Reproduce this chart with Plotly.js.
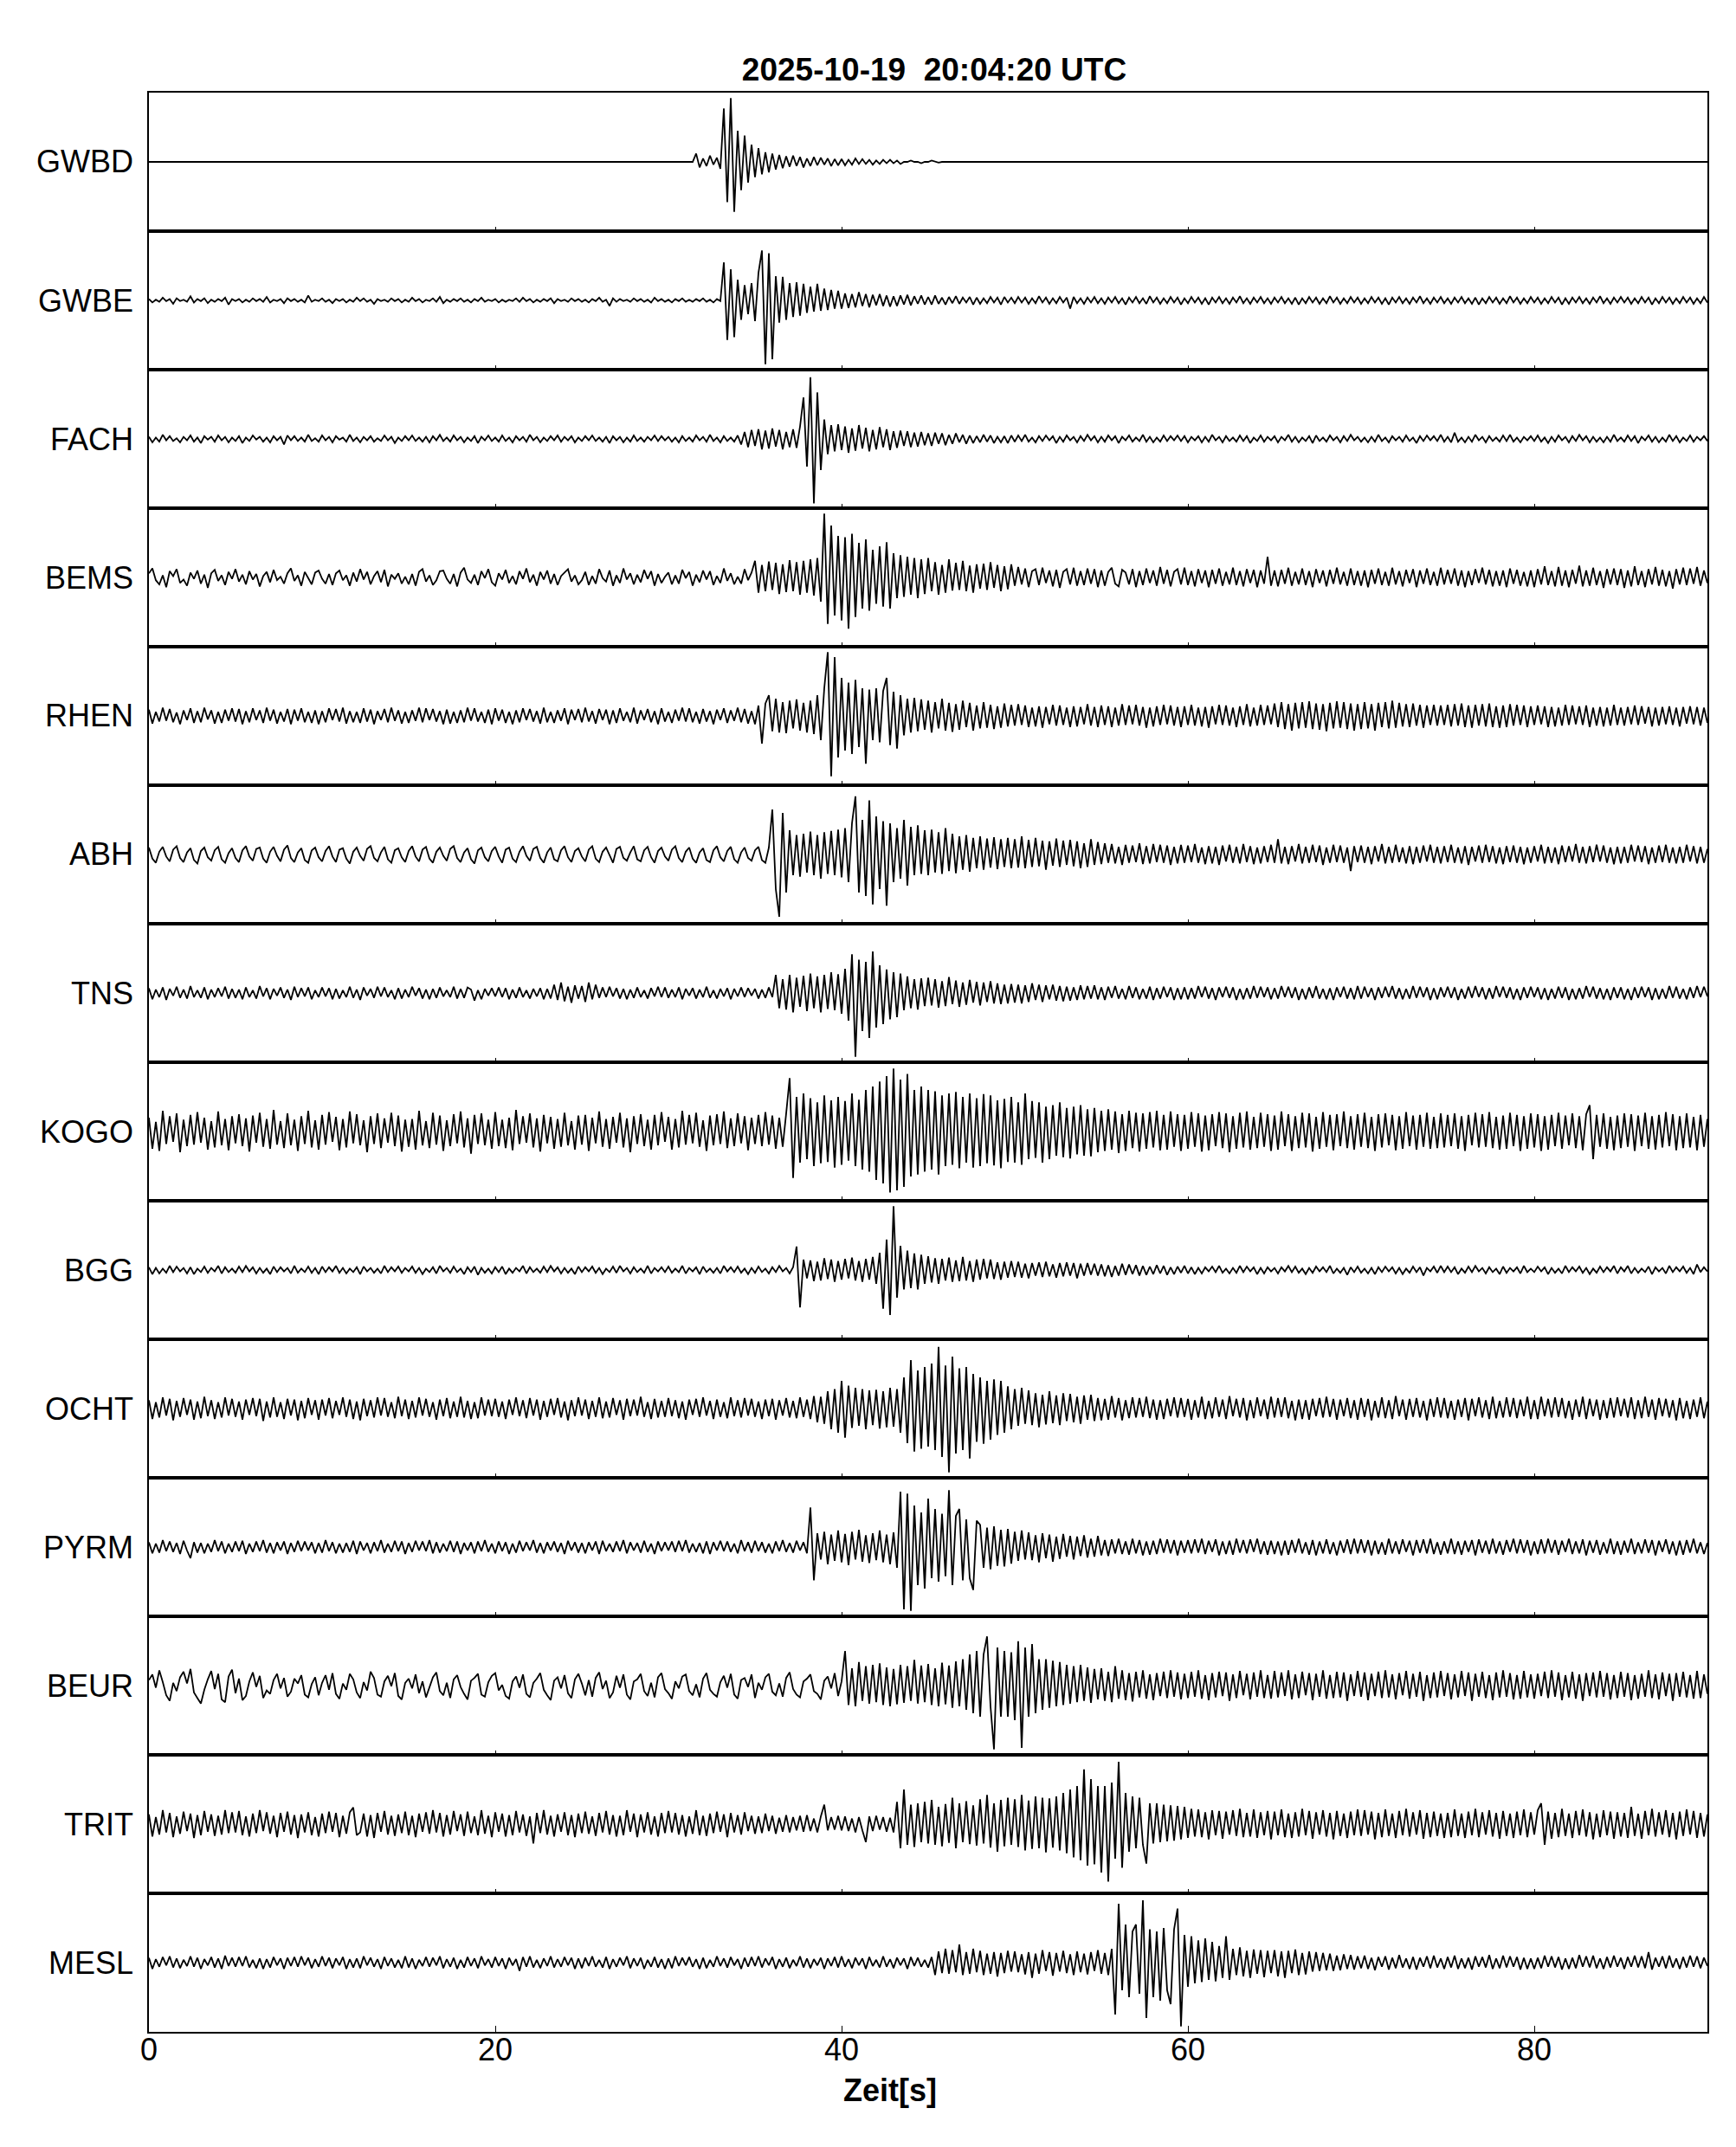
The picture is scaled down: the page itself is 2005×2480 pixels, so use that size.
<!DOCTYPE html>
<html><head><meta charset="utf-8">
<script src="https://cdn.plot.ly/plotly-3.0.1.min.js"></script>
<style>html,body{margin:0;padding:0;background:#fff}</style>
</head><body>
<div id="chart" style="width:2005px;height:2480px"></div>
<script>
// Station names, top to bottom
const stations = ['GWBD','GWBE','FACH','BEMS','RHEN','ABH','TNS','KOGO','BGG','OCHT','PYRM','BEUR','TRIT','MESL'];
const tickVals = [0,20,40,60,80];
const tickText = ['0','20','40','60','80'];
const titleText = '2025-10-19\u00a0 20:04:20 UTC';
const xTitleText = 'Zeit[s]';
// Each trace: rows of 5 s (samples every 0.2 s), amplitude in % of half panel height; last row = value at 90 s
const Z = [0,0,0,0,0, 0,0,0,0,0, 0,0,0,0,0, 0,0,0,0,0, 0,0,0,0,0];
const GWBD = [Z,Z,Z,Z,Z,Z,
[0,0,0,0,0, 0,0,0,12,-8, 5,-6,9,-4,6, -10,77,-58,92,-72, 45,-41,38,-30,25],
[-22,20,-18,14,-15, 12,-11,10,-9,8, -7,9,-6,7,-8, 5,-6,7,-5,6, -4,5,-6,4,-5],
[4,-5,3,-4,5, -3,4,-3,3,-4, 2,-3,3,-2,3, -2,2,-3,0,0, 2,0,0,-2,0],
[0,2,0,-1,0, 0,0,0,0,0, 0,0,0,0,0, 0,0,0,0,0, 0,0,0,0,0],
Z,Z,Z,Z,Z,Z,Z,Z,[0]];
const GWBE = [
[2,-3,1,-2,4, -1,2,-5,3,-1, 1,-2,6,-3,2, -1,3,-4,1,-2, 2,-1,4,-6,2],
[-1,2,-3,1,-2, 3,-1,2,-2,5, -3,1,-1,2,-4, 3,-1,2,-2,1, -3,7,-2,1,-1],
[3,-2,1,-4,2, -1,2,-3,1,-2, 4,-1,3,-2,1, -5,2,-1,1,-2, 3,-1,2,-3,1],
[-2,4,-1,2,-3, 1,-1,3,-2,5, -4,1,-2,2,-1, 3,-2,1,-3,2, -1,4,-2,1,-1],
[2,-3,1,-2,1, -1,3,-2,4,-1, 2,-3,1,-2,2, -1,3,-4,2,-1, 1,-2,3,-1,2],
[-2,1,-3,2,-1, 4,-2,1,-8,3, -2,2,-1,1,-2, 3,-1,2,-2,1, -3,4,-1,2,-2],
[1,-3,2,-1,3, -2,1,-2,2,-1, 3,-2,1,-3,2, -1,55,-57,45,-53, 30,-28,22,-20,25],
[-30,40,72,-92,68, -85,35,-32,34,-28, 25,-24,26,-22,24, -18,20,-16,24,-15, 17,-14,15,-12,14],
[-12,10,-11,9,-10, 12,-8,9,-10,8, -7,9,-8,7,-9, 6,-8,7,-6,8, -7,6,-5,7,-6],
[5,-6,7,-5,4, -6,5,-4,6,-5, 4,-3,5,-6,4, -5,3,-4,5,-3, 4,-6,5,-3,4],
[-4,5,-3,4,-5, 3,-4,6,-3,4, -5,3,-4,5,-3, 4,-12,5,-4,3, -5,4,-3,5,-4],
[3,-5,4,-3,5, -4,3,-6,4,-3, 5,-4,3,-5,6, -3,4,-5,3,-4, 5,-3,4,-6,3],
[-4,5,-3,4,-5, 3,-6,4,-3,5, -4,3,-5,4,-3, 6,-4,3,-5,4, -3,5,-4,3,-5],
[4,-3,5,-4,3, -5,4,-6,3,-4, 5,-3,4,-5,3, -4,6,-3,4,-5, 3,-4,5,-3,4],
[-5,3,-4,5,-3, 4,-5,3,-6,4, -3,5,-4,3,-5, 4,-3,6,-4,3, -5,4,-3,5,-4],
[3,-5,4,-3,5, -4,3,-5,4,-6, 3,-4,5,-3,4, -5,3,-4,6,-3, 4,-5,3,-4,5],
[-3,4,-5,3,-4, 5,-3,4,-6,3, -5,4,-3,5,-4, 3,-5,4,-3,6, -4,3,-5,4,-3],
[5,-3,4,-5,3, -4,5,-3,4,-6, 3,-4,5,-3,4, -5,3,-4,5,-3, 4,-5,3,-4,5],
[-3]];
const FACH = [
[3,-5,2,-4,6, -2,4,-3,1,-5, 3,-2,5,-4,2, -6,4,-1,3,-4, 5,-2,3,-5,2],
[-3,4,-6,2,-3, 5,-1,3,-4,2, -5,4,-2,3,-8, 5,-2,4,-3,2, -4,6,-3,1,-4],
[5,-2,3,-5,4, -1,2,-4,6,-3, 2,-5,3,-2,4, -4,1,-3,5,-2, 3,-6,2,-3,4],
[-2,5,-3,2,-4, 3,-5,4,-2,6, -3,2,-4,5,-2, 3,-5,2,-3,4, -6,3,-2,5,-3],
[2,-4,5,-3,2, -5,4,-2,3,-4, 6,-2,3,-5,2, -3,4,-2,5,-4, 3,-2,4,-5,2],
[-3,4,-2,5,-3, 2,-4,3,-6,4, -2,3,-5,2,-4, 5,-3,2,-4,3, -2,5,-3,4,-2],
[3,-4,2,-5,4, -3,2,-4,5,-2, 3,-4,6,-3,2, -5,4,-3,2,-4, 5,-8,10,-12,13],
[-10,14,-15,12,-14, 15,-11,13,-15,10, -12,14,-13,18,60, -40,89,-93,67,-45, 28,-22,20,-18,21],
[-16,18,-20,15,-17, 20,-14,16,-18,13, -15,17,-12,14,-16, 11,-13,12,-10,11, -12,9,-11,10,-9],
[8,-10,9,-7,8, -9,6,-7,8,-5, 6,-7,5,-6,4, -5,6,-4,5,-6, 3,-5,4,-6,5],
[-4,5,-3,6,-4, 2,-5,4,-3,5, -2,4,-6,3,-4, 5,-2,3,-5,4, -3,6,-2,4,-5],
[3,-4,5,-2,4, -6,3,-2,5,-4, 2,-3,6,-4,3, -5,2,-4,5,-3, 4,-2,5,-3,4],
[-5,3,-2,4,-5, 3,-4,6,-2,3, -5,4,-3,2,-4, 5,-3,4,-6,2, -3,5,-4,3,-2],
[4,-5,3,-2,6, -4,3,-5,2,-3, 4,-6,5,-3,2, -4,5,-2,3,-5, 4,-3,6,-2,3],
[-4,2,-5,3,-4, 6,-3,2,-5,4, -2,3,-4,5,-3, 2,-6,4,-3,5, -2,4,-3,6,-4],
[3,-5,9,-4,2, -5,3,-4,6,-2, 3,-5,4,-3,2, -4,5,-3,6,-4, 2,-5,3,-2,4],
[-3,5,-4,2,-6, 3,-4,5,-2,3, -5,4,-3,6,-2, 4,-5,3,-4,2, -5,3,-4,6,-3],
[2,-4,5,-3,4, -6,3,-2,5,-4, 3,-5,2,-4,6, -3,4,-5,2,-3, 5,-4,3,-2,4],
[-3]];
const BEMS = [
[6,13,-4,-10,3, -14,9,2,12,-8, -3,-12,7,-2,10, -9,4,-15,6,11, -5,3,-11,8,-2],
[12,-6,4,-10,9, -3,5,-13,2,8, -7,11,-4,1,-9, 6,13,-5,3,-12, 8,-1,-10,7,10],
[-2,-9,5,-11,6, 10,-4,3,-12,7, -6,12,-3,8,-10, 2,9,-7,11,-13, 4,-2,6,-9,1],
[-10,5,-12,8,12, -6,3,-11,-4,9, 10,-2,-9,5,-13, 7,14,-3,-8,4, -11,9,-1,12,-7],
[-12,6,-3,11,-8, 2,-10,9,-2,13, -7,4,-12,8,-3, 10,-9,5,-11,2, 7,12,-6,3,-10],
[-4,8,-11,2,-9, 12,-1,-6,10,-12, 3,-8,13,-3,6, -10,4,-7,11,-2, 9,-12,5,-8,1],
[7,-10,3,-9,11, -1,8,-12,4,-7, 10,-3,9,-11,2, -8,13,-5,6,-10, 1,-9,12,-4,7],
[24,-22,18,-20,23, -18,21,-24,19,-21, 25,-20,22,-25,24, -22,26,-26,28,-35, 92,-67,75,-55,60],
[-62,58,-74,63,-57, 50,-45,55,-48,40, -38,45,-42,51,-45, 35,-30,32,-28,30, -25,28,-30,26,-24],
[28,-20,22,-25,18, -22,26,-19,21,-18, 24,-20,17,-22,19, -16,20,-18,22,-15, 18,-20,16,-17,19],
[-12,15,-10,13,-14, 9,12,-11,14,-8, 10,-13,11,-15,8, 12,-10,14,-12,9, -11,13,-9,12,-14],
[10,-12,8,14,-9, -13,11,7,-10,12, -14,9,-11,13,-8, 10,-12,15,-9,11, -13,8,12,-10,14],
[-11,9,-13,12,-8, 10,-14,11,-9,13, -12,8,-10,14,-11, 9,-13,12,-8,11, -14,10,-9,30,-12],
[10,-13,11,-9,14, -12,8,-10,13,-11, 9,-14,12,-8,10, -13,11,-9,14,-10, 8,-12,13,-11,9],
[-12,10,-14,11,-9, 13,-11,8,-12,14, -10,9,-13,11,-8, 12,-14,10,-9,13, -11,8,-12,14,-10],
[11,-9,13,-12,10, -14,9,-11,12,-8, 14,-10,11,-13,9, -12,10,-14,13,-9, 11,-12,8,-13,10],
[-14,12,-10,16,-11, 9,-13,15,-12,10, -14,11,-9,17,-13, 10,-12,14,-11,9, -15,12,-10,13,-11],
[12,-15,10,-13,16, -11,9,-14,12,-10, 15,-12,11,-13,9, -16,12,-10,14,-11, 13,-9,15,-12,10],
[-8]];
const RHEN = [
[9,-11,6,-8,12, -7,10,-9,5,-12, 8,-6,11,-10,7, -9,12,-5,8,-11, 6,-10,9,-7,11],
[-8,10,-12,7,-9, 11,-6,8,-10,12, -7,9,-11,6,-8, 10,-12,9,-7,11, -9,6,-10,8,-12],
[7,-9,11,-6,10, -8,12,-11,7,-9, 6,-10,11,-8,9, -12,7,-6,10,-9, 12,-7,8,-11,6],
[-10,8,-7,12,-9, 11,-6,10,-8,7, -12,9,-11,6,-10, 8,-9,12,-7,11, -8,6,-10,9,-12],
[11,-7,9,-10,6, -12,8,-9,11,-6, 10,-8,7,-11,12, -9,6,-10,8,-7, 11,-12,9,-6,10],
[-9,12,-8,7,-11, 10,-6,9,-12,8, -10,11,-7,6,-9, 12,-11,8,-6,10, -9,7,-12,11,-8],
[6,-10,9,-7,12, -8,11,-9,6,-11, 10,-8,7,-12,9, -6,11,-10,8,-7, 12,-9,10,-11,7],
[-12,15,-40,18,30, -22,25,-24,20,-25, 22,-18,24,-21,19, -24,22,-26,30,-35, 40,92,-87,85,-60],
[55,-50,48,-55,52, -45,40,-69,38,-35, 40,-38,36,55,-42, 35,-47,30,-28,25, -24,26,-22,24,-20],
[22,-24,20,-18,25, -21,19,-23,17,-20, 22,-16,19,-21,15, -18,20,-17,16,-19, 14,-17,18,-15,16],
[-14,17,-13,15,-16, 12,-15,14,-17,13, -12,16,-14,15,-13, 12,-16,14,-15,13, -12,17,-14,13,-16],
[15,-13,14,-16,12, -14,17,-13,15,-12, 16,-14,13,-17,12, -15,14,-13,16,-12, 15,-14,13,-16,14],
[-13,16,-14,12,-15, 13,-17,14,-12,16, -13,15,-14,12,-16, 14,-13,17,-15,12, -14,16,-13,15,-12],
[18,-16,20,-19,17, -21,19,-18,20,-17, 21,-19,18,-20,17, -22,19,-18,21,-17, 20,-19,18,-21,17],
[-19,20,-18,17,-21, 19,-16,20,-18,22, -17,19,-15,17,-16, 18,-14,16,-17,15, -13,16,-14,15,-13],
[16,-15,17,-14,18, -16,15,-17,16,-14, 17,-15,18,-16,14, -17,15,-16,17,-14, 16,-13,15,-16,14],
[-13,15,-12,14,-16, 13,-15,12,-14,16, -13,15,-12,14,-13, 15,-16,12,-14,13, -15,12,-14,16,-13],
[12,-14,13,-12,15, -13,14,-11,13,-15, 12,-14,13,-12,14, -13,12,-15,13,-11, 14,-12,13,-14,12],
[-10]];
const ABH = [
[10,-6,-12,4,11, -3,-10,7,12,-5, -11,3,9,-8,-13, 5,10,-4,-9,6, 11,-7,-12,2,9],
[-5,-11,6,12,-3, -9,8,10,-6,-12, 4,11,-2,-10,7, 13,-5,-11,3,9, -8,-12,6,10,-4],
[-10,5,12,-3,-11, 7,9,-6,-13,4, 10,-2,-9,8,12, -5,-10,3,11,-7, -12,6,9,-4,-11],
[5,12,-3,-10,7, 11,-6,-12,4,10, -2,-9,8,12,-5, -11,3,9,-7,-13, 6,10,-4,-10,5],
[11,-3,-12,7,10, -6,-11,4,12,-2, -9,8,11,-5,-12, 3,10,-7,-10,6, 12,-4,-11,5,9],
[-3,-10,7,12,-6, -11,4,10,-2,-12, 8,11,-5,-9,3, 12,-7,-10,6,11, -4,-12,5,10,-3],
[-9,7,12,-5,-11, 4,10,-6,-12,3, 9,-8,-11,6,12, -4,-10,5,11,-7, -12,3,10,-5,-9],
[6,11,-8,-12,10, 65,-50,-90,60,-55, 35,-30,28,-32,30, -26,33,-30,28,-35, 32,-28,34,-30,36],
[-33,38,-40,45,84, -55,50,-60,78,-72, 55,-50,48,-74,45, -40,38,-35,50,-45, 40,-30,42,-28,35],
[-30,36,-26,32,-28, 38,-24,30,-27,26, -22,28,-25,24,-20, 26,-22,23,-19,25, -21,22,-18,24,-20],
[22,-19,26,-20,21, -18,24,-17,20,-22, 19,-16,23,-18,20, -15,21,-17,19,-20, 16,-18,22,-15,18],
[-14,16,-12,15,-13, 11,-15,14,-12,13, -11,16,-14,12,-13, 15,-11,14,-12,13, -15,11,-13,14,-12],
[13,-11,15,-12,10, -14,12,-13,11,-15, 13,-10,14,-12,11, -13,15,-11,12,-14, 10,-13,12,-11,14],
[-12,22,-13,11,-14, 12,-10,15,-13,11, -12,14,-11,13,-15, 10,-12,14,-11,13, -12,10,-24,12,-11],
[13,-12,11,-14,12, -10,15,-13,11,-12, 14,-11,10,-13,12, -14,11,-12,13,-10, 14,-12,11,-13,12],
[-11,14,-12,10,-13, 12,-15,11,-10,13, -12,14,-11,12,-13, 10,-14,12,-11,13, -12,11,-14,10,-12],
[12,-10,14,-13,11, -12,10,-14,13,-11, 12,-10,15,-12,11, -13,12,-11,14,-10, 13,-12,10,-14,11],
[-13,11,-12,14,-10, 13,-11,12,-14,10, -12,13,-11,14,-12, 10,-13,11,-12,14, -10,12,-13,11,-12],
[8]];
const TNS = [
[7,-9,5,-6,8, -10,6,-4,9,-7, 5,-8,10,-6,4, -7,8,-9,5,-6, 7,-5,9,-8,6],
[-7,5,-9,8,-6, 4,-8,10,-5,7, -9,6,-4,8,-7, 5,-10,9,-6,7, -5,8,-9,4,-6],
[8,-5,7,-9,6, -8,4,-6,9,-7, 5,-10,8,-4,6, -7,9,-5,8,-6, 4,-9,7,-8,5],
[-6,9,-4,7,-8, 5,-9,6,-7,8, -5,4,-6,9,-8, 6,-7,8,5,-11, 4,-9,6,-4,7],
[-5,8,-6,7,-9, 5,-7,8,-6,4, -8,6,-5,7,-9, 6,-8,12,-10,15, -12,9,-14,11,-8],
[10,-13,15,-9,12, -7,8,-6,9,-5, 7,-8,6,-9,5, -7,8,-6,4,-8, 7,-5,9,-6,8],
[-7,5,-6,8,-9, 6,-4,7,-8,5, -6,9,-7,4,-8, 6,-5,7,-9,6, -5,8,-6,7,-4],
[6,-8,5,-7,8, -6,26,-22,20,-24, 26,-28,22,-20,25, -26,28,-22,24,-28, 26,-23,30,-25,27],
[-30,35,-40,56,-92, 48,-55,45,-65,60, -50,40,-45,34,-38, 30,-35,28,-25,24, -22,20,-24,21,-19],
[22,-18,20,-21,17, -19,23,-16,18,-20, 15,-17,19,-14,16, -18,15,-13,17,-15, 14,-16,12,-15,13],
[-14,12,-15,11,-13, 14,-10,12,-13,11, -9,12,-11,10,-12, 9,-11,8,-10,11, -9,10,-8,11,-9],
[8,-10,9,-7,10, -8,6,-9,10,-7, 8,-9,6,-8,9, -10,7,-8,9,-6, 8,-10,7,-9,8],
[-9,7,-8,10,-6, 9,-8,7,-10,8, -6,9,-7,8,-10, 6,-9,7,-8,10, -7,9,-6,8,-9],
[7,-8,10,-6,9, -7,8,-10,6,-9, 8,-7,10,-8,6, -9,7,-10,8,-6, 9,-8,7,-9,10],
[-8,9,-6,7,-10, 8,-7,9,-6,10, -8,7,-9,6,-8, 10,-7,9,-6,8, -10,7,-9,8,-6],
[9,-7,8,-10,6, -8,9,-7,10,-6, 8,-9,7,-8,10, -6,9,-7,8,-9, 6,-10,8,-7,9],
[-6,8,-9,7,-10, 6,-8,9,-7,8, -10,6,-9,7,-8, 10,-6,9,-8,7, -9,6,-10,8,-7],
[8,-9,6,-10,8, -7,9,-6,8,-10, 7,-9,6,-8,10, -7,9,-8,6,-9, 8,-7,10,-6,9],
[-5]];
const KOGO = [
[20,-25,14,-28,30, -18,22,-15,26,-30, 17,-21,24,-19,28, -16,20,-26,15,-23, 29,-20,18,-27,22],
[-17,25,-21,19,-29, 23,-16,27,-22,18, -25,31,-19,15,-24, 26,-20,17,-28,22, -18,30,-23,16,-26],
[24,-19,28,-15,21, -27,18,-23,29,-17, 25,-20,16,-30,22, -18,26,-24,19,-16, 27,-21,23,-29,17],
[-22,18,-26,30,-20, 15,-24,27,-19,23, -28,16,-21,25,-17, 29,-23,19,-32,24, -18,26,-20,17,-25],
[28,-21,17,-24,20, -27,31,-18,22,-16, 26,-23,19,-29,24, -17,21,-25,18,-22, 27,-20,15,-26,23],
[-19,24,-28,20,-17, 29,-22,18,-25,21, -16,27,-23,19,-30, 22,-18,25,-21,17, -26,24,-20,28,-15],
[21,-26,18,-23,30, -19,24,-17,27,-22, 16,-28,23,-20,25, -18,29,-24,19,-21, 26,-17,22,-27,20],
[-18,24,-21,28,-19, 23,-25,20,-22,26, 77,-67,50,-45,55, -40,48,-50,42,-46, 52,-44,45,-52,50],
[-48,44,-42,55,-50, 46,-55,60,-58,65, -70,72,-75,80,-88, 91,-85,75,-80,83, -65,60,-62,65,-58],
[60,-55,58,-62,52, -50,55,-48,57,-53, 50,-45,55,-52,48, -50,54,-46,52,-49, 45,-53,47,-44,50],
[-45,42,-48,55,-40, 44,-38,42,-45,36, -40,38,-35,42,-37, 34,-39,36,-33,38, -35,32,-36,34,-30],
[30,-28,32,-26,29, -31,25,-28,30,-24, 27,-29,26,-25,28, -23,30,-27,24,-26, 29,-22,25,-28,24],
[-25,28,-22,26,-29, 23,-27,25,-21,28, -24,26,-30,22,-25, 27,-23,29,-26,21, -24,27,-22,25,-28],
[23,-26,29,-21,25, -28,22,-24,27,-23, 26,-29,21,-25,28, -22,24,-27,25,-21, 29,-24,22,-26,25],
[-22,27,-24,21,-28, 25,-23,26,-20,24, -27,22,-25,28,-21, 23,-26,24,-22,27, -25,21,-24,26,-23],
[24,-21,26,-25,22, -28,24,-20,27,-23, 25,-22,28,-24,21, -26,23,-25,27,-21, 24,-28,22,-25,26],
[-23,25,-28,22,-26, 24,-21,27,-25,23, -20,26,-24,22,-27, 25,38,-40,24,-22, 26,-25,21,-27,23],
[-24,26,-22,25,-28, 23,-21,27,-25,22, -26,24,-23,28,-21, 25,-27,22,-24,26, -23,21,-27,24,-22],
[18]];
const BGG = [
[4,-6,3,-5,2, -4,6,-3,5,-2, 3,-5,4,-6,2, -3,5,-4,3,-2, 6,-5,4,-3,2],
[-4,5,-3,6,-2, 4,-5,3,-4,2, -6,5,-3,4,-2, 3,-5,6,-4,2, -3,5,-4,3,-6],
[5,-3,4,-2,6, -4,3,-5,2,-3, 4,-6,5,-2,3, -4,2,-5,6,-3, 4,-2,5,-4,3],
[-2,5,-4,3,-6, 2,-3,4,-5,6, -2,3,-4,5,-3, 2,-6,4,-3,5, -7,3,-4,2,-5],
[4,-3,5,-6,2, -4,3,-2,6,-5, 4,-3,2,-4,5, -3,6,-2,4,-5, 3,-4,2,-6,5],
[-3,4,-2,5,-4, 3,-6,2,-3,5, -4,6,-2,3,-5, 4,-3,2,-4,6, -5,3,-2,4,-3],
[5,-4,2,-3,6, -5,3,-2,4,-6, 5,-3,2,-4,3, -5,6,-2,4,-3, 5,-4,2,-6,3],
[-4,5,-3,2,-5, 4,-3,6,-2,3, -5,4,34,-54,15, -12,14,-16,12,-15, 17,-13,15,-17,13],
[-14,16,-12,18,-15, 13,-17,16,-14,19, -20,25,-56,44,-65, 92,-40,35,-28,28, -26,24,-28,22,-20],
[20,-18,17,-20,16, -15,18,-17,14,-16, 19,-15,13,-17,15, -14,16,-12,15,-13, 11,-14,12,-11,13],
[-10,12,-11,9,-12, 10,-8,11,-10,12, -9,8,-11,10,-9, 11,-8,10,-12,9, -8,10,-7,9,-8],
[8,-9,7,-10,6, -8,9,-7,8,-6, 7,-8,6,-7,5, -6,7,-5,6,-7, 4,-6,5,-4,6],
[-5,4,-6,3,-5, 4,-2,5,-3,6, -4,2,-5,3,-4, 6,-3,5,-2,4, -6,3,-5,4,-2],
[3,-5,4,-2,6, -3,5,-4,2,-6, 3,-4,5,-2,4, -3,6,-5,2,-4, 3,-7,4,-3,5],
[-4,2,-5,3,-6, 4,-3,5,-2,4, -5,3,-6,2,-4, 5,-3,4,-8,3, -2,5,-4,6,-3],
[5,-3,4,-6,2, -4,5,-3,6,-2, 3,-5,4,-3,2, -6,5,-4,3,-2, 4,-5,6,-3,2],
[-3,5,-2,4,-6, 3,-4,2,-5,6, -3,4,-2,5,-4, 3,-6,2,-4,5, -3,4,-2,6,-5],
[4,-2,6,-5,3, -4,2,-3,5,-6, 4,-2,3,-5,6, -3,4,-2,5,-4, 3,-6,8,-3,4],
[-2]];
const OCHT = [
[12,-15,9,-13,16, -10,14,-17,11,-12, 15,-9,13,-16,10, -14,17,-11,12,-15, 9,-13,16,-10,14],
[-12,10,-16,13,-9, 15,-11,14,-18,10, -13,16,-12,9,-15, 14,-10,13,-17,11, -14,15,-9,12,-16],
[13,-10,15,-14,11, -9,16,-12,13,-15, 10,-17,14,-11,12, -13,16,-10,15,-12, 9,-14,17,-11,13],
[-15,11,-13,16,-10, 14,-12,9,-16,13, -11,15,-14,10,-12, 17,-13,11,-15,9, -14,16,-10,13,-11],
[14,-12,10,-15,13, -9,16,-11,12,-14, 15,-10,13,-16,11, -12,14,-9,15,-13, 10,-17,12,-11,16],
[-10,13,-15,11,-12, 16,-14,10,-13,15, -9,12,-16,14,-11, 13,-10,17,-12,9, -15,14,-13,11,-12],
[15,-11,12,-14,10, -16,13,-9,14,-12, 16,-10,11,-15,13, -12,9,-14,16,-11, 12,-13,15,-10,14],
[-12,10,-15,13,-11, 14,-16,12,-10,15, -13,11,-14,16,-12, 13,-15,18,-20,17, -22,25,-30,28,-35],
[40,-42,33,-28,30, -25,28,-30,26,-24, 27,-29,25,-27,30, -26,28,-35,45,-50, 70,-62,55,-58,60],
[-55,65,-60,89,-70, 62,-92,75,-65,58, -60,60,-72,50,-48, 45,-51,40,-45,42, -38,40,-35,32,-30],
[28,-25,30,-22,26, -24,22,-27,20,-23, 25,-21,19,-24,22, -18,21,-20,17,-22, 19,-16,20,-18,15],
[-17,14,-16,18,-13, 15,-17,12,-14,16, -13,15,-12,17,-14, 13,-16,12,-15,14, -11,16,-13,15,-12],
[14,-16,12,-13,17, -15,11,-14,16,-12, 13,-15,18,-11,14, -13,15,-17,12,-14, 16,-11,13,-15,17],
[-13,15,-12,16,-14, 11,-17,13,-15,12, -16,14,-11,15,-13, 17,-12,14,-16,13, -11,15,-14,12,-16],
[15,-12,14,-17,11, -13,16,-14,12,-15, 18,-11,13,-16,14, -12,15,-13,11,-17, 14,-12,16,-13,15],
[-14,11,-16,13,-12, 15,-17,14,-11,16, -13,12,-15,17,-14, 11,-13,16,-12,15, -14,13,-11,17,-15],
[12,-15,17,-11,14, -13,16,-12,15,-14, 11,-16,13,-12,17, -15,14,-11,13,-16, 12,-14,15,-13,16],
[-11,14,-13,16,-15, 12,-14,17,-12,13, -16,15,-11,14,-13, 12,-17,15,-14,11, -15,13,-12,16,-14],
[10]];
const PYRM = [
[7,-9,5,-8,10, -6,8,-7,6,-10, 9,-5,-16,7,-8, 6,-9,5,-7,10, -6,8,-9,5,-7],
[8,-6,9,-10,5, -7,8,-6,10,-8, 6,-9,7,-5,8, -10,6,-7,9,-6, 8,-5,7,-9,6],
[-8,10,-6,7,-9, 5,-8,6,-7,9, -10,8,-5,6,-9, 7,-6,10,-8,5, -7,9,-6,8,-10],
[6,-7,9,-5,8, -6,10,-9,7,-8, 5,-6,9,-7,8, -10,6,-5,7,-9, 8,-6,10,-7,5],
[-9,8,-6,7,-10, 5,-8,9,-6,7, -5,10,-8,6,-9, 7,-5,8,-7,6, -10,9,-5,7,-8],
[6,-9,7,-5,8, -10,9,-6,5,-7, 8,-6,10,-9,7, -5,6,-8,9,-7, 5,-10,8,-6,7],
[-5,8,-7,9,-6, 10,-8,5,-7,6, -9,8,-10,7,-5, 9,-6,8,-7,5, -9,10,-6,7,-8],
[9,-6,7,-8,5, -9,8,-6,10,-7, 6,-8,9,-5,7, -9,57,-48,20,-18, 22,-25,18,-20,24],
[-22,19,-26,22,-18, 25,-21,17,-23,20, -19,24,-22,18,-25, 21,-30,80,-90,77, -92,60,-55,50,-60],
[70,-45,55,-50,48, -42,82,-55,45,55, -48,40,-45,-62,38, 32,-30,28,-32,30, -27,25,-28,26,-24],
[22,-20,24,-18,21, -19,17,-22,20,-16, 18,-21,15,-17,19, -14,16,-18,15,-13, 17,-15,12,-14,16],
[-12,10,-13,11,-9, 12,-10,8,-11,12, -9,10,-12,8,-11, 9,-10,12,-8,11, -9,10,-12,9,-8],
[10,-9,11,-8,12, -10,9,-7,11,-12, 8,-10,9,-11,12, -8,10,-9,11,-7, 12,-10,8,-11,9],
[-10,8,-12,9,-11, 10,-8,12,-9,7, -11,10,-12,8,-9, 11,-10,7,-12,9, -8,11,-10,12,-9],
[11,-8,10,-12,9, -10,7,-11,12,-9, 8,-10,11,-7,9, -12,10,-8,11,-9, 12,-10,7,-11,8],
[-9,12,-10,8,-11, 9,-7,10,-12,11, -8,9,-10,12,-9, 8,-11,10,-7,12, -9,11,-8,10,-12],
[8,-10,11,-9,12, -8,10,-11,9,-7, 12,-10,8,-9,11, -12,9,-8,10,-11, 7,-9,12,-10,8],
[-11,9,-8,12,-10, 7,-9,11,-8,10, -12,9,-7,11,-10, 8,-12,9,-11,10, -8,12,-9,7,-10],
[6]];
const BEUR = [
[8,16,-3,22,5, -14,-22,4,-8,12, 20,3,24,-10,-18, -26,-6,9,21,-5, 17,-20,-24,13,23],
[-11,10,-21,-15,6, 19,-2,14,-18,-7, -12,8,17,-4,11, -16,-9,10,3,15, -13,-17,2,12,-14],
[4,15,-6,18,-12, -19,3,-6,17,9, -10,-18,5,-7,20, 11,-13,-16,6,14, -1,18,-15,-20,4],
[10,-4,16,-11,6, -17,-3,12,19,-8, -14,4,-18,9,15, -2,-12,-20,7,11, 17,-13,-16,5,14],
[18,-7,1,-15,-19, 6,13,-3,16,-12, -17,4,10,18,-6, -14,-21,7,12,-4, 15,-11,-18,9,17],
[3,-14,8,-16,11, 19,-5,7,-18,-10, 14,-3,16,-13,-20, 6,9,17,-8,-15, 4,-17,12,18,-5],
[-11,-19,6,-4,13, 16,-8,-14,2,-17, 10,18,-6,-12,-16, 5,14,-3,17,-13, -19,8,11,-2,16],
[-18,4,-6,12,17, -9,-14,3,-16,11, 19,-5,-13,-17,6, 10,16,-8,-12,-20, 7,13,-4,18,-15],
[6,50,-28,25,-30, 34,-22,28,-26,30, -24,32,-28,26,-30, 24,-27,30,-25,28, -22,37,-26,29,-24],
[31,-28,25,-30,33, -27,29,-32,35,-30, 38,-35,45,-40,50, -45,45,71,-30,-92, 55,-45,50,-45,48],
[-50,64,-90,55,-45, 60,-40,38,-35,38, -32,36,-30,34,-28, 30,-26,28,-24,30, -22,26,-25,24,-20],
[25,-22,20,-24,28, -19,22,-21,18,-23, 20,-17,22,-19,16, -21,18,-15,20,-18, 22,-16,19,-20,17],
[-18,20,-16,22,-19, 15,-21,18,-17,20, -15,19,-22,16,-18, 21,-14,17,-20,19, -16,22,-18,15,-19],
[21,-17,19,-15,22, -20,16,-18,20,-14, 18,-21,17,-16,22, -19,15,-18,20,-17, 19,-22,16,-15,21],
[-16,19,-21,17,-15, 20,-18,22,-17,16, -20,18,-14,21,-19, 17,-16,20,-22,15, -18,19,-17,21,-15],
[18,-20,16,-17,21, -15,19,-22,17,-16, 20,-18,15,-21,19, -17,22,-16,18,-20, 15,-19,21,-17,16],
[-19,17,-15,20,-18, 22,-16,19,-21,15, -17,20,-19,16,-22, 18,-15,19,-17,21, -16,18,-20,15,-18],
[20,-16,18,-21,15, -19,17,-16,22,-18, 16,-20,19,-15,17, -22,18,-16,20,-17, 15,-19,21,-18,16],
[-12]];
const TRIT = [
[14,-18,10,-15,20, -12,16,-19,11,-14, 18,-10,15,-20,13, -16,19,-11,14,-17, 12,-15,20,-13,17],
[-12,19,-16,11,-18, 15,-13,20,-10,17, -14,12,-19,16,-11, 18,-15,13,-20,14, -12,17,-16,10,-18],
[15,-13,18,-11,16, -19,12,-14,17,24, -16,-12,15,-18,13, -20,16,-11,19,-15, 12,-17,14,-13,18],
[-16,12,-19,15,-11, 17,-14,20,-12,16, -18,13,-15,19,-10, 14,-17,18,-13,11, -16,20,-14,12,-19],
[17,-11,15,-18,13, -16,19,-12,14,-17, 11,-28,16,-13,20, -15,12,-18,14,-11, 17,-16,13,-19,15],
[-13,18,-14,11,-17, 16,-12,19,-15,13, -18,12,-16,20,-11, 15,-19,14,-12,17, -15,11,-18,16,-13],
[19,-12,16,-15,13, -18,11,-14,20,-16, 12,-17,15,-13,18, -11,14,-19,16,-12, 13,-15,17,-10,12],
[-14,11,-13,15,-10, 12,-14,9,-11,13, -12,10,-9,12,-11, 13,-10,8,-12,11, 28,-9,10,-8,12],
[-9,11,-10,8,-12, 10,-9,-26,11,-10, 12,-8,10,-11,9, -12,32,-35,50,-30, 28,-33,30,-26,32],
[-28,35,-30,25,-32, 29,-27,38,-35,30, -26,33,-29,27,-31, 36,-28,42,-34,30, -40,35,-32,38,-30],
[36,-33,42,-38,34, -36,40,-35,38,-41, 37,-34,40,-38,45, -42,50,-48,55,-52, 79,-60,65,-58,55],
[-70,55,-83,60,-50, 90,-63,45,-40,40, -35,38,-30,-57,30, -28,30,-26,28,-25, 27,-24,26,-22,25],
[-20,22,-18,21,-19, 17,-22,20,-16,19, -21,18,-15,20,-17, 22,-19,16,-18,21, -20,17,-16,19,-22],
[18,-16,21,-19,15, -20,17,-18,22,-16, 19,-21,17,-15,20, -18,16,-22,19,-17, 15,-20,18,-16,21],
[-17,20,-15,18,-22, 16,-19,21,-17,15, -20,19,-16,22,-18, 17,-15,20,-21,16, -19,18,-17,15,-20],
[16,-19,21,-17,15, -20,18,-16,22,-19, 17,-15,20,-18,16, -21,19,-17,15,-20, 18,-16,21,-19,17],
[-15,20,30,-30,18, -21,16,-19,22,-17, 15,-20,19,-16,21, -18,17,-22,15,-19, 20,-16,18,-21,17],
[-18,16,-20,25,-17, 15,-21,19,-16,22, -18,17,-15,20,-19, 16,-22,18,-17,21, -15,19,-20,16,-18],
[14]];
const MESL = [
[7,-9,5,-6,8, -4,9,-7,6,-8, 4,-5,9,-6,7, -9,5,-4,8,-7, 6,-9,10,-5,7],
[-6,8,-5,9,-7, 4,-8,6,-9,5, -7,8,-4,6,-9, 7,-5,8,-6,9, -4,7,-8,5,-6],
[9,-5,7,-8,6, -4,8,-9,5,-7, 6,-8,9,-4,7, -6,5,-9,8,-5, 6,-7,4,-8,9],
[-7,6,-9,4,-5, 8,-6,7,-4,9, -8,5,-6,7,-9, 4,-7,8,-5,6, -8,9,-4,5,-7],
[8,-5,6,-9,7, -4,5,-12,8,-6, 9,-7,4,-8,6, -5,9,-7,5,-6, 8,-4,7,-9,6],
[-8,7,-5,9,-6, 4,-7,8,-9,5, -6,7,-4,9,-8, 6,-5,7,-9,4, -6,8,-7,5,-9],
[6,-8,9,-5,7, -4,8,-6,5,-9, 7,-8,4,-6,9, -5,6,-7,8,-4, 5,-9,7,-6,8],
[-5,9,-7,6,-4, 8,-9,5,-6,7, -8,4,-5,9,-7, 6,-8,5,-4,7, -9,6,-5,8,-7],
[9,-6,5,-8,7, -4,6,-9,8,-5, 4,-7,9,-6,5, -8,7,-4,6,-9, 8,-5,7,-6,4],
[-7,8,-18,16,-15, 20,-16,18,-14,26, -18,15,-16,20,-14, 17,-18,13,-16,15, -20,14,-15,17,-13],
[16,-14,12,-17,15, -22,13,-16,18,-12, 15,-19,14,-13,17, -15,12,-18,16,-14, 13,-17,15,-12,18],
[-16,14,-18,20,-75, 85,-40,55,-50,45, 55,-45,90,-80,48, -50,45,-55,50,-40, -60,48,78,-92,40],
[-35,38,-30,32,-28, 35,-25,30,-27,24, -22,38,-25,20,-18, 22,-20,17,-22,19, -16,18,-21,17,-15],
[18,-20,16,-22,17, -15,19,-18,14,-17, 16,-13,15,-12,14, -11,13,-12,10,-11, 12,-9,11,-10,9],
[-8,10,-9,7,-11, 8,-6,9,-10,7, -8,11,-7,6,-9, 8,-10,7,-6,9, -8,10,-7,6,-9],
[8,-7,10,-9,6, -8,7,-10,9,-6, 8,-7,11,-9,6, -8,10,-7,9,-6, 8,-10,7,-9,6],
[-9,7,-8,10,-6, 9,-7,8,-10,6, -9,7,-8,11,-6, 9,-7,10,-8,6, -9,8,-7,10,-6],
[7,-9,8,-6,10, -7,9,-8,15,-10, 7,-6,9,-8,10, -7,6,-9,8,-7, 10,-6,9,-8,7],
[-5]];
const waveforms = [GWBD,GWBE,FACH,BEMS,RHEN,ABH,TNS,KOGO,BGG,OCHT,PYRM,BEUR,TRIT,MESL];

const FONT = '"Liberation Sans", Arial, Helvetica, sans-serif';
const N = stations.length;
const ROW_SEC = 5, DT = 0.2;

function expand(rows) {
  const x = [], y = [];
  rows.forEach((row, k) => row.forEach((v, j) => {
    x.push(Math.round((k * ROW_SEC + j * DT) * 10) / 10);
    y.push(v);
  }));
  return {x, y};
}

const data = [];
const layout = {
  width: 2005, height: 2480,
  margin: {l: 172, r: 33, t: 107, b: 133, pad: 0},
  paper_bgcolor: '#ffffff', plot_bgcolor: '#ffffff',
  showlegend: false,
  font: {family: FONT, size: 36, color: '#000'},
  title: {
    text: '<b>' + titleText + '</b>',
    font: {family: FONT, size: 37, color: '#000'},
    xref: 'container', x: 1079 / 2005, xanchor: 'center',
    yref: 'container', y: 1 - 80 / 2480, yanchor: 'middle'
  },
  annotations: []
};

for (let i = 0; i < N; i++) {
  const n = i + 1;
  const xs = n === 1 ? '' : String(n);
  const isBottom = (i === N - 1);
  const w = expand(waveforms[i]);
  data.push({
    x: w.x, y: w.y, type: 'scatter', mode: 'lines',
    line: {color: '#000', width: 1.8},
    xaxis: 'x' + xs, yaxis: 'y' + xs,
    hoverinfo: 'skip', showlegend: false, name: stations[i]
  });
  const lo = (N - 1 - i) / N, hi = (N - i) / N;
  layout['xaxis' + xs] = {
    domain: [0, 1], range: [0, 90], anchor: 'y' + xs,
    tickmode: 'array',
    tickvals: isBottom ? tickVals : tickVals.slice(1),
    ticktext: isBottom ? tickText : tickText.slice(1),
    showticklabels: isBottom,
    ticks: 'inside', ticklen: isBottom ? 7 : 5, tickwidth: 1, tickcolor: '#000',
    ticklabelstandoff: isBottom ? -12 : 0,
    tickfont: {family: FONT, size: 36, color: '#000'},
    showline: true, linecolor: '#000', linewidth: 2, mirror: true,
    showgrid: false, zeroline: false, fixedrange: true
  };
  layout['yaxis' + xs] = {
    domain: [lo, hi], range: [-100, 100], anchor: 'x' + xs,
    showline: true, linecolor: '#000', linewidth: 2, mirror: true,
    showticklabels: false, ticks: '', showgrid: false, zeroline: false, fixedrange: true
  };
  layout.annotations.push({
    text: stations[i], xref: 'paper', yref: 'paper',
    x: (156 - 172) / 1800, y: (lo + hi) / 2,
    xanchor: 'right', yanchor: 'middle', showarrow: false,
    font: {family: FONT, size: 36, color: '#000'}
  });
}
layout.annotations.push({
  text: '<b>' + xTitleText + '</b>', xref: 'paper', yref: 'paper',
  x: (1028 - 172) / 1800, y: (2347 - 2414) / 2240,
  xanchor: 'center', yanchor: 'middle', showarrow: false,
  font: {family: FONT, size: 36, color: '#000'}
});

Plotly.newPlot('chart', data, layout, {staticPlot: true, displayModeBar: false});
</script>
</body></html>
